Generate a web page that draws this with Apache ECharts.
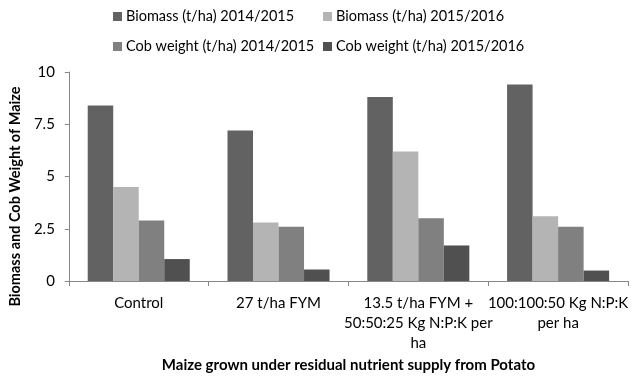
<!DOCTYPE html>
<html>
<head>
<meta charset="utf-8">
<script src="https://cdn.jsdelivr.net/npm/echarts@6/dist/echarts.min.js"></script>
<style>html,body{margin:0;padding:0;background:#fff}#c{width:636px;height:390px}</style>
</head>
<body>
<div id="c"></div>
<script>
var categories = ["Control", "27 t/ha FYM", "13.5 t/ha FYM +\n50:50:25 Kg N:P:K per\nha", "100:100:50 Kg N:P:K\nper ha"];
var seriesNames = ["Biomass (t/ha) 2014/2015", "Biomass (t/ha) 2015/2016", "Cob weight (t/ha) 2014/2015", "Cob weight (t/ha) 2015/2016"];
var biomass1415 = [8.4, 7.2, 8.8, 9.4];
var biomass1516 = [4.5, 2.8, 6.2, 3.1];
var cob1415 = [2.9, 2.6, 3.0, 2.6];
var cob1516 = [1.05, 0.55, 1.7, 0.5];
var yTicks = [0, 2.5, 5, 7.5, 10];
var xTitle = "Maize grown under residual nutrient supply from Potato";
var yTitle = "Biomass and Cob Weight of Maize";

var colors = ["#626262", "#b4b4b4", "#808080", "#505050"];
var values = [biomass1415, biomass1516, cob1415, cob1516];
var FONT = "Lato";
var legendPos = [[108, 4], [318, 4], [108, 34], [318, 34]];

var chart = echarts.init(document.getElementById('c'), null, {renderer: 'canvas'});
var option = {
  animation: false,
  textStyle: {fontFamily: FONT},
  legend: seriesNames.map(function (n, i) {
    return {
      data: [n], left: legendPos[i][0], top: legendPos[i][1],
      itemWidth: 9, itemHeight: 9, itemGap: 4, icon: 'rect', padding: 5,
      textStyle: {fontFamily: FONT, fontSize: 14.5, color: '#000', padding: [0, 0, 0, -1]},
      selectedMode: false
    };
  }),
  grid: {left: 62, right: 8, top: 72, bottom: 109, containLabel: false},
  xAxis: {
    type: 'category', data: categories,
    name: xTitle, nameLocation: 'middle', nameGap: 77,
    nameTextStyle: {fontFamily: FONT, fontWeight: 'bold', fontSize: 15, color: '#000'},
    axisLine: {lineStyle: {color: '#868686', width: 1}},
    axisTick: {show: true, length: 5, lineStyle: {color: '#868686'}},
    axisLabel: {fontFamily: FONT, fontSize: 15, color: '#000', margin: 12, lineHeight: 20, interval: 0}
  },
  yAxis: {
    type: 'value', min: yTicks[0], max: yTicks[yTicks.length - 1], interval: yTicks[1] - yTicks[0],
    name: yTitle, nameLocation: 'middle', nameGap: 44,
    nameTextStyle: {fontFamily: FONT, fontWeight: 'bold', fontSize: 14.5, color: '#000', padding: [0, 40, 0, 0]},
    axisLine: {show: true, lineStyle: {color: '#868686', width: 1}},
    axisTick: {show: true, length: 4, lineStyle: {color: '#868686'}},
    axisLabel: {fontFamily: FONT, fontSize: 15, color: '#000', margin: 14},
    splitLine: {show: false}
  },
  series: seriesNames.map(function (n, i) {
    return {
      name: n, type: 'bar', data: values[i],
      itemStyle: {color: colors[i]},
      barGap: '0%', barCategoryGap: '27%'
    };
  })
};
chart.setOption(option);
</script>
</body>
</html>
